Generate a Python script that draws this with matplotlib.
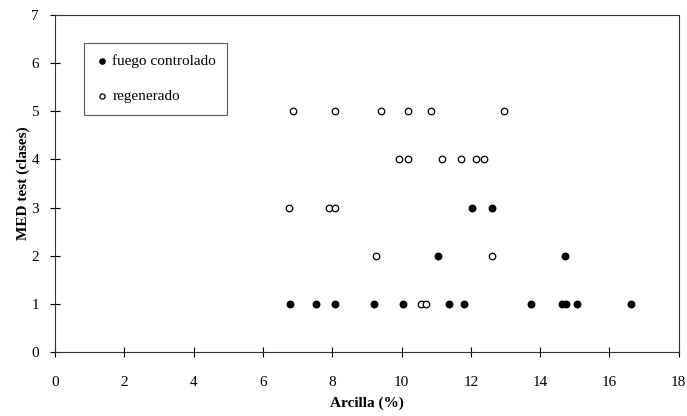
import matplotlib
matplotlib.use("Agg")
import matplotlib.pyplot as plt

plt.rcParams['font.family'] = ['Liberation Serif', 'DejaVu Serif']

# fuego controlado (filled)
fc_x = [12.03, 12.61, 11.06, 14.72, 6.79, 7.52, 8.07, 9.22, 10.03, 11.38, 11.81, 13.75, 14.64, 14.74, 15.05, 16.63]
fc_y = [3, 3, 2, 2, 1, 1, 1, 1, 1, 1, 1, 1, 1, 1, 1, 1]

# regenerado (open)
rg_x = [6.86, 8.07, 9.41, 10.18, 10.85, 12.96,
        9.94, 10.18, 11.17, 11.71, 12.14, 12.38,
        6.75, 7.92, 8.07,
        9.25, 12.61,
        10.56, 10.70]
rg_y = [5, 5, 5, 5, 5, 5,
        4, 4, 4, 4, 4, 4,
        3, 3, 3,
        2, 2,
        1, 1]

x_ticks = [0, 2, 4, 6, 8, 10, 12, 14, 16, 18]
y_ticks = [0, 1, 2, 3, 4, 5, 6, 7]

fig = plt.figure(figsize=(6.87, 4.16), dpi=100)
ax = fig.add_axes([0.080, 0.154, 0.908, 0.810])

ax.scatter(fc_x, fc_y, s=22, c='black', marker='o', label='fuego controlado', zorder=3)
ax.scatter(rg_x, rg_y, s=22, facecolors='white', edgecolors='black', linewidths=0.9,
           marker='o', label='regenerado', zorder=3)

ax.set_xlim(0, 18)
ax.set_ylim(0, 7)
ax.set_xticks(x_ticks)
ax.set_yticks(y_ticks)
ax.tick_params(direction='inout', length=7, width=0.8, labelsize=11)
ax.tick_params(axis='x', pad=14)
ax.tick_params(axis='y', pad=8)
for sp in ax.spines.values():
    sp.set_linewidth(0.8)
    sp.set_color('#333333')

ax.set_xlabel('Arcilla (%)', fontsize=11, fontweight='bold', labelpad=5)
ax.set_ylabel('MED test (clases)', fontsize=11, fontweight='bold', labelpad=1)

leg = ax.legend(loc='upper left', bbox_to_anchor=(0.0465, 0.917), frameon=True, fancybox=False,
                edgecolor='#333333', fontsize=11, handletextpad=0.3, labelspacing=1.4,
                borderpad=0.75, markerscale=0.8, handlelength=0.8, borderaxespad=0)
leg.get_frame().set_linewidth(0.8)

fig.savefig('out.png', dpi=100)
